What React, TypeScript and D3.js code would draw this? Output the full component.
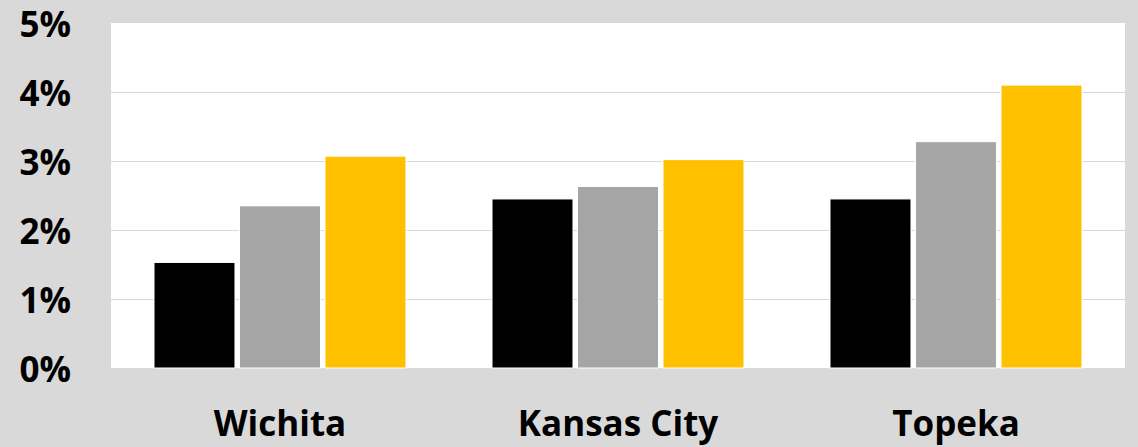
import React from "react";
import * as d3 from "d3";

const categories = ["Wichita", "Kansas City", "Topeka"];
const seriesNames = ["s1", "s2", "s3"];
const series1 = [1.53, 2.45, 2.45];
const series2 = [2.35, 2.63, 3.28];
const series3 = [3.07, 3.02, 4.1];
const yTicks = [0, 1, 2, 3, 4, 5];
const colors = ["#000000", "#a5a5a5", "#ffc000"];

const W = 1138;
const H = 447;
const plot = { left: 111, right: 1125, top: 23, bottom: 368 };

export default function App() {
  const seriesValues = [series1, series2, series3];
  const x0 = d3.scaleBand<string>().domain(categories).range([plot.left, plot.right]).padding(0);
  const x1 = d3
    .scaleBand<string>()
    .domain(seriesNames)
    .range([0, x0.bandwidth()])
    .paddingInner(0.053)
    .paddingOuter(0.503);
  const y = d3.scaleLinear().domain([0, 5]).range([plot.bottom, plot.top]);
  const font = "'Open Sans', sans-serif";

  return (
    <svg
      width={W}
      height={H}
      style={{ position: "absolute", left: 0, top: 0, display: "block" }}
    >
      <rect x={0} y={0} width={W} height={H} fill="#d9d9d9" />
      <rect
        x={plot.left}
        y={plot.top}
        width={plot.right - plot.left}
        height={plot.bottom - plot.top}
        fill="#ffffff"
      />
      {yTicks.map((t) => (
        <g key={t}>
          {t > 0 && t < 5 && (
            <line
              x1={plot.left}
              x2={plot.right}
              y1={Math.round(y(t)) + 0.5}
              y2={Math.round(y(t)) + 0.5}
              stroke="#d9d9d9"
              strokeWidth={1.2}
            />
          )}
          <text
            x={71}
            y={y(t)}
            textAnchor="end"
            dominantBaseline="central"
            fontFamily={font}
            fontWeight={700}
            fontSize={35}
            fill="#000"
          >
            {t}%
          </text>
        </g>
      ))}
      {categories.map((c, i) => (
        <g key={c} transform={`translate(${x0(c)},0)`}>
          {seriesNames.map((s, j) => {
            const v = seriesValues[j][i];
            return (
              <rect
                key={s}
                x={x1(s)}
                y={y(v)}
                width={x1.bandwidth()}
                height={y(0) - y(v)}
                fill={colors[j]}
                stroke="#ffffff"
                strokeWidth={1}
              />
            );
          })}
          <text
            x={x0.bandwidth() / 2}
            y={436}
            textAnchor="middle"
            fontFamily={font}
            fontWeight={700}
            fontSize={35}
            fill="#000"
          >
            {c}
          </text>
        </g>
      ))}
    </svg>
  );
}
